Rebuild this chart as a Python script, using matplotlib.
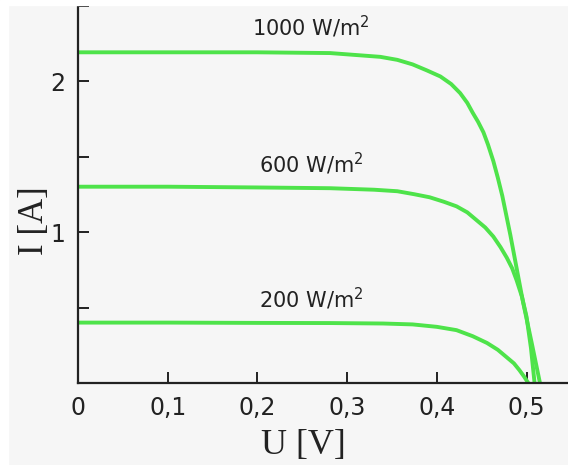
import numpy as np
import matplotlib
matplotlib.use("Agg")
import matplotlib.pyplot as plt
from matplotlib.patches import Rectangle

plt.rcParams['mathtext.default'] = 'regular'

# I-V curves (U in V, I in A)
u_1000 = [0.0, 0.10, 0.20, 0.281, 0.337, 0.356, 0.373, 0.389, 0.404, 0.416, 0.426, 0.434, 0.440,
          0.446, 0.452, 0.457, 0.463, 0.468, 0.473, 0.482, 0.489, 0.496, 0.506, 0.515]
i_1000 = [2.19, 2.19, 2.19, 2.185, 2.16, 2.14, 2.11, 2.07, 2.03, 1.98, 1.92, 1.855, 1.79,
          1.73, 1.66, 1.58, 1.47, 1.36, 1.24, 0.98, 0.76, 0.54, 0.26, 0.0]

u_600 = [0.0, 0.10, 0.20, 0.281, 0.33, 0.356, 0.375, 0.392, 0.408, 0.422, 0.434, 0.444, 0.454,
         0.463, 0.471, 0.478, 0.484, 0.489, 0.495, 0.500, 0.505, 0.509]
i_600 = [1.30, 1.30, 1.295, 1.29, 1.28, 1.27, 1.25, 1.23, 1.20, 1.17, 1.13, 1.08, 1.03,
         0.97, 0.90, 0.83, 0.76, 0.68, 0.57, 0.44, 0.23, 0.0]

u_200 = [0.0, 0.10, 0.20, 0.281, 0.34, 0.373, 0.40, 0.422, 0.440, 0.456, 0.468, 0.478, 0.486,
         0.492, 0.497, 0.502]
i_200 = [0.40, 0.40, 0.398, 0.397, 0.394, 0.388, 0.372, 0.35, 0.31, 0.265, 0.22, 0.17, 0.13,
         0.086, 0.045, 0.0]

labels = ['1000 W/m$^{2}$', '600 W/m$^{2}$', '200 W/m$^{2}$']
label_u = [0.26, 0.26, 0.26]
label_i = [2.30, 1.39, 0.50]

xticks = [0, 0.1, 0.2, 0.3, 0.4, 0.5]
xticklabels = ['0', '0,1', '0,2', '0,3', '0,4', '0,5']
yticks = [0.5, 1, 1.5, 2, 2.5]
yticklabels = ['', '1', '', '2', '']

green = '#4ee34a'
bg = '#f6f6f6'
ink = '#222222'

fig = plt.figure(figsize=(5.68, 4.65), dpi=100, facecolor=bg)
# thin white frame round the scanned picture
fig.patches.append(Rectangle((0, 0), 8 / 568, 1, transform=fig.transFigure, color='white', zorder=0))
fig.patches.append(Rectangle((0, 1 - 5 / 465), 1, 5 / 465, transform=fig.transFigure, color='white', zorder=0))

ax = fig.add_axes([78 / 568, (465 - 383) / 465, 490 / 568, 377.5 / 465])
ax.set_facecolor(bg)

for u, i in [(u_1000, i_1000), (u_600, i_600), (u_200, i_200)]:
    ax.plot(u, i, color=green, lw=2.8, solid_capstyle='round', solid_joinstyle='round')

for t, x, y in zip(labels, label_u, label_i):
    ax.text(x, y, t, ha='center', va='baseline', fontsize=15, color=ink)

ax.set_xlim(0, 490 / 897)
ax.set_ylim(0, 2.5)
ax.set_xticks(xticks)
ax.set_xticklabels(xticklabels)
ax.set_yticks(yticks)
ax.set_yticklabels(yticklabels)
ax.tick_params(direction='in', length=8, width=1.4, labelsize=17, color=ink, labelcolor=ink)
ax.tick_params(axis='x', pad=9)
ax.tick_params(axis='y', pad=9)

for s in ['top', 'right']:
    ax.spines[s].set_visible(False)
for s in ['left', 'bottom']:
    ax.spines[s].set_linewidth(1.6)
    ax.spines[s].set_color(ink)

fig.text(303 / 568, 1 - 445 / 465, 'U [V]', family='Liberation Serif', fontsize=26,
         ha='center', va='center', color=ink)
fig.text(35 / 568, 1 - 221 / 465, 'I [A]', family='Liberation Serif', fontsize=25,
         ha='center', va='center', rotation=90, color=ink)

fig.savefig('out.png', dpi=100, facecolor=bg)
